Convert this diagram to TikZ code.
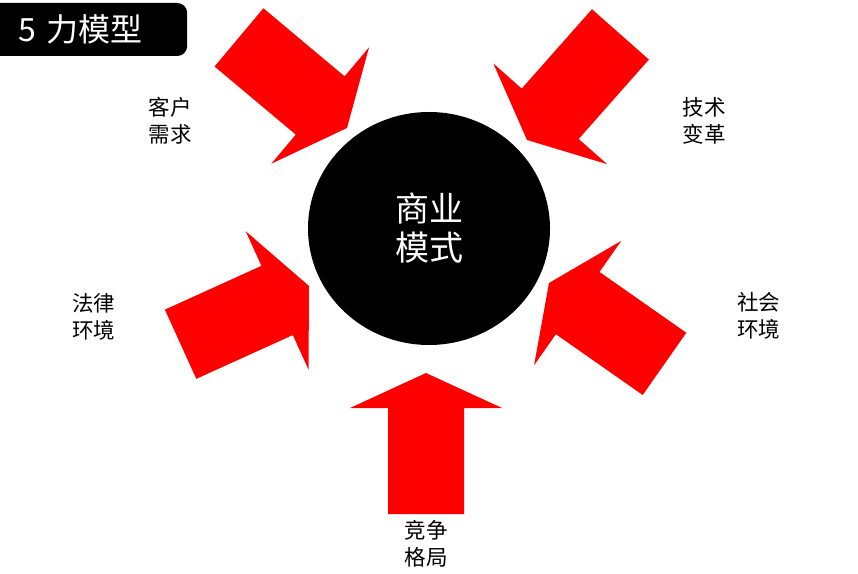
\documentclass[tikz,border=0pt]{standalone}
\usepackage{fontspec}
\setmainfont{Noto Sans CJK SC}
\usetikzlibrary{positioning, shapes.geometric}

\begin{document}
\begin{tikzpicture}
    [x=1pt, y=1pt,
     force/.style={fill=red},
     factor/.style={align=center, inner sep=0pt, font=\fontsize{21.5}{27}\selectfont}]
    \useasboundingbox (0,0) rectangle (858,573);

    \node [fill=black, text=white, rounded corners=10pt, anchor=west, inner xsep=28pt,
           text width=141pt, align=left, minimum height=53pt,
           font=\fontsize{32}{32}\selectfont] (title) at (-10,543.5) {5 力模型};

    \node [ellipse, fill=black, text=white, minimum width=242pt, minimum height=233pt,
           inner sep=0pt, align=center, font=\fontsize{34}{39}\selectfont] (model) at (429,344.5) {商业\\模式};

    % five forces, tip and direction
    \foreach \tip/\ang in {{(347,445)}/-40, {(527,433)}/228.5, {(309,287)}/24.4, {(549,290)}/145, {(426,200)}/90}
      \fill [force, shift={\tip}, rotate=\ang]
        (0,0) -- (-35,76) -- (-35,38) -- (-141,38) -- (-141,-38) -- (-35,-38) -- (-35,-76) -- cycle;

    \node [factor] (customer) at (170,452) {客户\\需求};
    \node [factor] (tech) at (704,452) {技术\\变革};
    \node [factor] (law) at (93.5,256.5) {法律\\环境};
    \node [factor] (society) at (758.5,257) {社会\\环境};
    \node [factor] (market) at (426,29) {竞争\\格局};
\end{tikzpicture}
\end{document}
